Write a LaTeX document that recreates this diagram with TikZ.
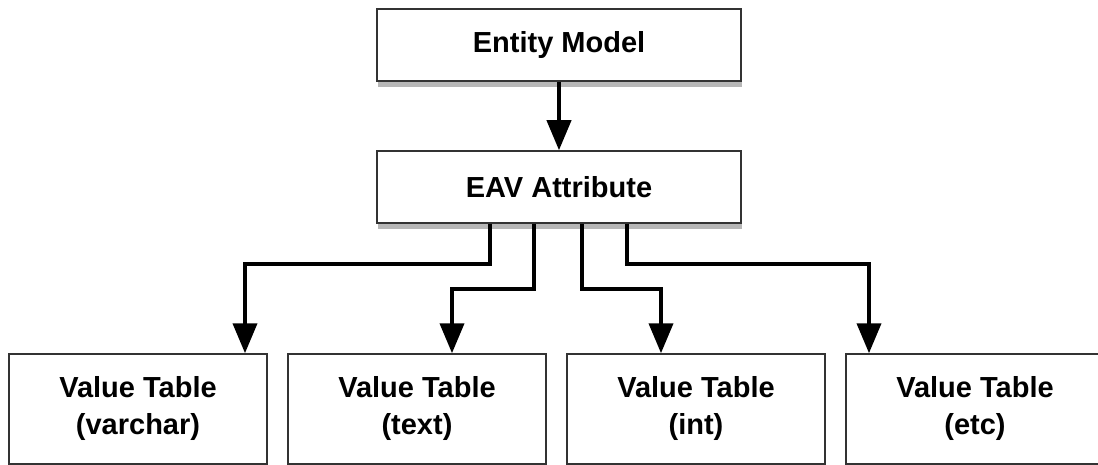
\documentclass[tikz,border=0pt]{standalone}
\usepackage{fontspec}
\setmainfont{Liberation Sans}
\usetikzlibrary{arrows.meta,shadows}

\begin{document}
\begin{tikzpicture}[x=1pt, y=-1pt,
  box/.style={draw=black!80, line width=1.5pt, fill=white, align=center, inner sep=0pt,
    font=\fontsize{29}{37}\selectfont\bfseries,
    drop shadow={shadow xshift=1pt, shadow yshift=-6pt, opacity=.4, fill=black!70}},
  topbox/.style={box, minimum width=364pt, minimum height=72pt},
  valbox/.style={box, minimum width=258pt, minimum height=110pt},
  link/.style={line width=4pt, -{Triangle[width=24pt,length=30pt]}}]
\useasboundingbox (0, 0) rectangle (1098, 465);
%Top of the tree
\node[topbox] (entity) at (559, 45) {Entity Model};
\node[topbox] (eav) at (559, 187) {EAV Attribute};
%Value tables
\node[valbox] (varchar) at (138, 409) {Value Table\\(varchar)};
\node[valbox] (text) at (417, 409) {Value Table\\(text)};
\node[valbox] (int) at (696, 409) {Value Table\\(int)};
\node[valbox] (etc) at (975, 409) {Value Table\\(etc)};
%Connectors
\draw[link] (entity.south) -- (eav.north);
\draw[link] ([xshift=-69pt]eav.south) -- ++(0, 40) -| ([xshift=107pt]varchar.north);
\draw[link] ([xshift=-25pt]eav.south) -- ++(0, 65) -| ([xshift=35pt]text.north);
\draw[link] ([xshift=23pt]eav.south) -- ++(0, 65) -| ([xshift=-35pt]int.north);
\draw[link] ([xshift=68pt]eav.south) -- ++(0, 40) -| ([xshift=-106pt]etc.north);
\end{tikzpicture}
\end{document}
